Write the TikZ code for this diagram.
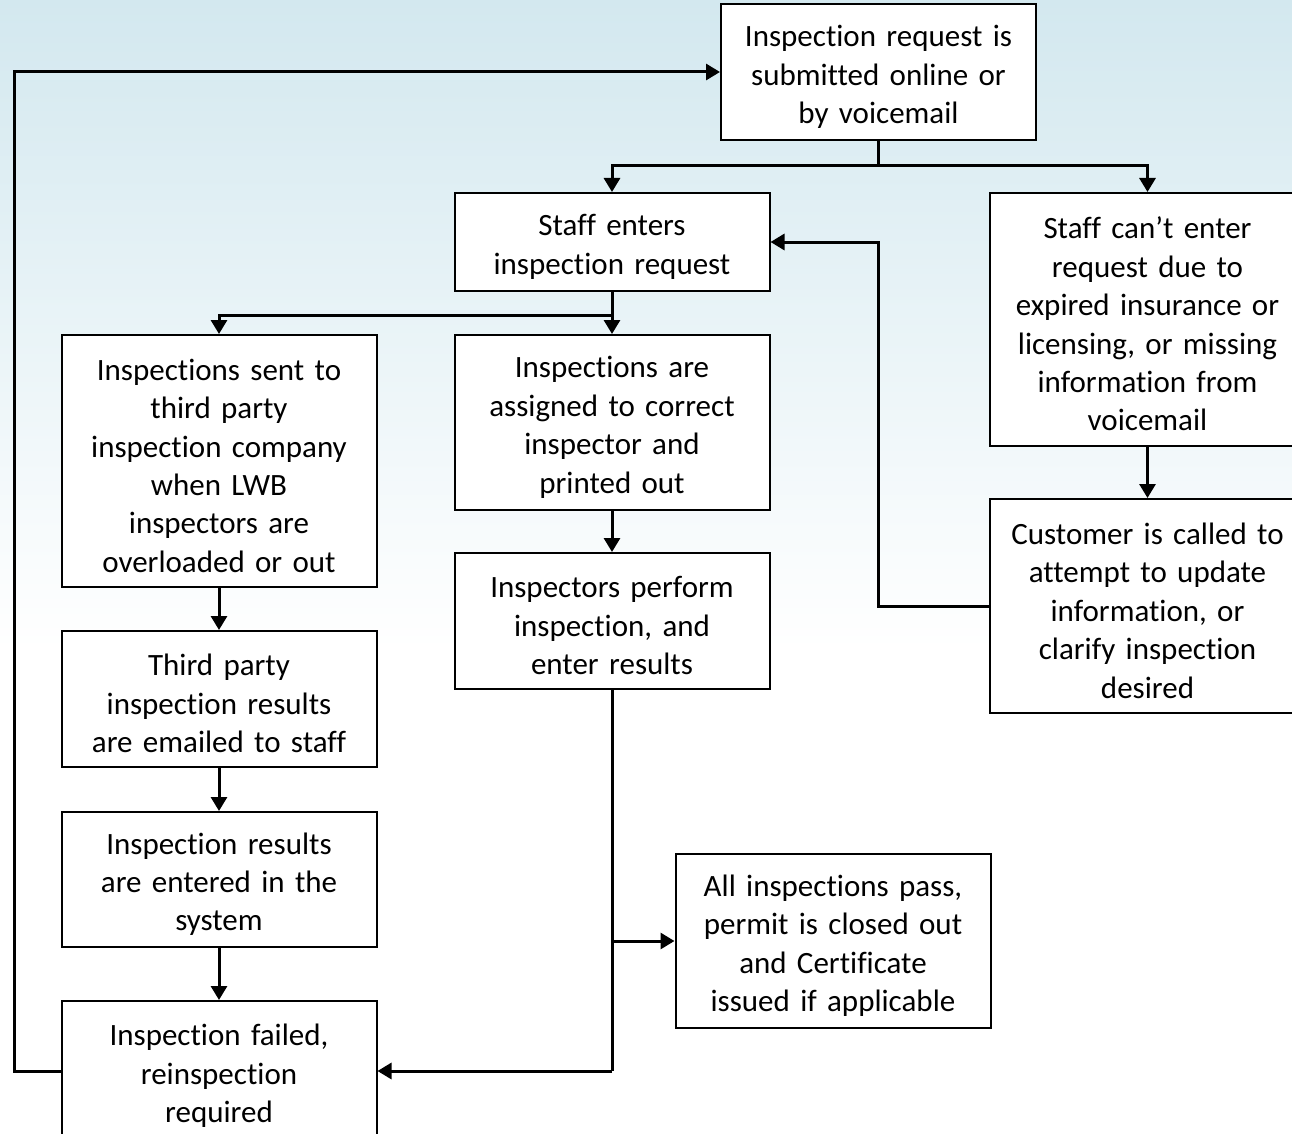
\documentclass[tikz,border=0pt]{standalone}
\usepackage{fontspec}
\setmainfont{Carlito}[Ligatures=NoCommon, WordSpace=0.85]
\usetikzlibrary{arrows.meta,calc}
\definecolor{skytop}{RGB}{211,232,239}
\begin{document}
\begin{tikzpicture}[x=1pt,y=-1pt,
  stepbox/.style={draw=black, line width=2pt, fill=white, align=center,
    text width=310pt, inner sep=0pt, minimum width=315pt,
    font=\fontsize{31}{38.4}\selectfont,
    execute at begin node={\rule{0pt}{31pt}}},
  arr/.style={line width=3pt, -{Triangle[length=14pt,width=16pt]}},
  ln/.style={line width=3pt}]
\useasboundingbox (0,0) rectangle (1292,1134);
\clip (0,0) rectangle (1292,1134);
% background wash
\fill[white] (0,0) rectangle (1292,1134);
\shade[top color=skytop, bottom color=white] (0,0) rectangle (1292,650);

% process boxes
\node[stepbox, minimum height=136pt] (top) at (878.5,72) {Inspection request is\\submitted online or\\by voicemail};
\node[stepbox, minimum height=98pt] (staff) at (612,242) {Staff enters\\inspection request};
\node[stepbox, minimum height=253pt] (cant) at (1147.5,319.5) {Staff can’t enter\\request due to\\expired insurance or\\licensing, or missing\\information from\\voicemail};
\node[stepbox, minimum height=252pt] (sent) at (219,461) {Inspections sent to\\third party\\inspection company\\when LWB\\inspectors are\\overloaded or out};
\node[stepbox, minimum height=175pt] (assigned) at (612,422.5) {Inspections are\\assigned to correct\\inspector and\\printed out};
\node[stepbox, minimum height=214pt] (customer) at (1147.5,606) {Customer is called to\\attempt to update\\information, or\\clarify inspection\\desired};
\node[stepbox, minimum height=136pt] (perform) at (612,621) {Inspectors perform\\inspection, and\\enter results};
\node[stepbox, minimum height=136pt] (third) at (219,699) {Third party\\inspection results\\are emailed to staff};
\node[stepbox, minimum height=135pt] (results) at (219,879.5) {Inspection results\\are entered in the\\system};
\node[stepbox, minimum height=174pt] (pass) at (833,941) {All inspections pass,\\permit is closed out\\and Certificate\\issued if applicable};
\node[stepbox, minimum height=140pt] (failed) at (219,1071) {Inspection failed,\\reinspection\\required};

% junction points of the elbow connectors
\coordinate (j1) at (878.5,166);
\coordinate (j2) at (612,315);
\coordinate (j3) at (878.5,606);
\coordinate (j4) at (612,1071);
\coordinate (j5) at (14,1071);

% connectors
\draw[ln] (top.south) -- (j1);
\draw[arr] (j1) -| (staff.north);
\draw[arr] (j1) -| (cant.north);
\draw[ln] (staff.south) -- (j2);
\draw[arr] (j2) -- (assigned.north);
\draw[arr] (j2) -| (sent.north);
\draw[arr] (cant.south) -- (customer.north);
\draw[arr] (customer.west) -- (j3) |- (staff.east);
\draw[arr] (sent.south) -- (third.north);
\draw[arr] (third.south) -- (results.north);
\draw[arr] (results.south) -- (failed.north);
\draw[arr] (assigned.south) -- (perform.north);
\draw[ln] (perform.south) -- (j4);
\draw[arr] (j4) -- (failed.east);
\draw[arr] (perform.south |- pass.west) -- (pass.west);
\draw[arr] (failed.west) -- (j5) |- (top.west);
\end{tikzpicture}
\end{document}
